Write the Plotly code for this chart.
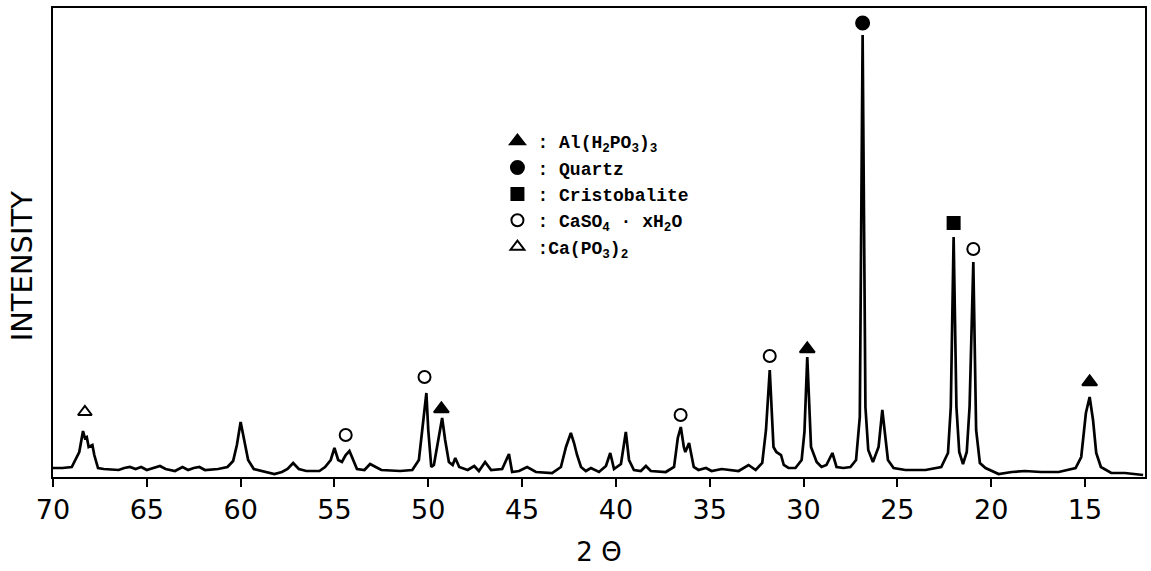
import plotly.graph_objects as go

# Diffraction pattern (2-theta in degrees, intensity in arbitrary units)
two_theta = [
    70.0, 69.5, 69.0, 68.8, 68.6, 68.4, 68.3, 68.2, 68.1, 67.9, 67.8, 67.6, 67.3, 66.5, 66.2, 65.9,
    65.6, 65.3, 65.0, 64.3, 64.0, 63.5, 63.1, 62.8, 62.5, 62.2, 61.9, 61.2, 60.7, 60.4, 60.2, 60.0,
    59.8, 59.6, 59.3, 58.8, 58.2, 57.8, 57.5, 57.2, 56.9, 56.5, 55.8, 55.5, 55.2, 55.0, 54.8, 54.6,
    54.4, 54.2, 54.0, 53.8, 53.4, 53.1, 52.8, 52.5, 51.5, 50.85, 50.5, 50.27, 50.1, 50.0, 49.84, 49.7,
    49.47, 49.26, 49.1, 48.9, 48.7, 48.56, 48.35, 47.9, 47.55, 47.3, 46.97, 46.65, 46.06, 45.85, 45.7, 45.53,
    45.16, 44.73, 44.26, 43.4, 42.93, 42.66, 42.4, 42.23, 42.07, 41.86, 41.6, 41.33, 40.9, 40.53, 40.3, 40.1,
    39.73, 39.47, 39.3, 39.04, 38.67, 38.4, 38.14, 37.34, 36.9, 36.7, 36.54, 36.38, 36.3, 36.1, 35.85, 35.6,
    35.2, 34.9, 34.36, 33.46, 32.93, 32.55, 32.2, 32.0, 31.8, 31.6, 31.45, 31.2, 31.05, 30.8, 30.43, 30.1,
    29.95, 29.8, 29.6, 29.3, 29.04, 28.78, 28.46, 28.24, 27.87, 27.5, 27.2, 27.0, 26.85, 26.7, 26.55, 26.3,
    26.0, 25.8, 25.65, 25.5, 25.2, 24.57, 23.5, 22.66, 22.3, 22.15, 22.0, 21.85, 21.7, 21.5, 21.3, 21.15,
    20.95, 20.8, 20.6, 20.3, 19.6, 18.9, 18.2, 17.34, 16.4, 15.5, 15.2, 14.95, 14.75, 14.57, 14.4, 14.15,
    13.6, 12.87, 11.9,
]
intensity = [
    9, 9, 10, 17, 25, 46, 39, 40, 30, 32, 22, 9, 8, 7, 9, 10,
    8, 10, 7, 11, 8, 6, 10, 7, 9, 10, 7, 8, 10, 16, 32, 55,
    37, 17, 8, 6, 3, 5, 8, 14, 8, 6, 6, 10, 17, 29, 17, 15,
    22, 26, 17, 8, 7, 13, 10, 7, 6, 7, 17, 57, 84, 47, 10, 12,
    35, 59, 37, 15, 12, 19, 10, 7, 11, 6, 15, 7, 8, 17, 23, 5,
    6, 10, 5, 4, 10, 30, 44, 34, 22, 10, 6, 9, 5, 11, 24, 8,
    13, 45, 17, 7, 6, 11, 6, 5, 10, 39, 50, 30, 25, 34, 10, 7,
    9, 6, 8, 6, 12, 7, 14, 47, 107, 30, 25, 22, 12, 9, 9, 17,
    45, 120, 30, 15, 10, 12, 24, 10, 9, 10, 17, 60, 442, 70, 27, 15,
    30, 67, 44, 17, 9, 7, 7, 10, 24, 70, 240, 70, 25, 13, 25, 70,
    215, 47, 14, 9, 3, 5, 6, 5, 5, 9, 20, 64, 80, 57, 24, 10,
    4, 4, 2,
]

# Phase markers placed above the identified peaks
al_x, al_y = [49.3, 29.8, 14.75], [68, 128, 95]
quartz_x, quartz_y = [26.85], [454]
cristo_x, cristo_y = [22.0], [254]
caso4_x, caso4_y = [54.4, 50.2, 36.55, 31.8, 20.95], [42, 100, 62, 121, 228]
capo3_x, capo3_y = [68.3], [65]

x_ticks = [70, 65, 60, 55, 50, 45, 40, 35, 30, 25, 20, 15]

fig = go.Figure()
fig.add_trace(go.Scatter(x=two_theta, y=intensity, mode="lines",
                         line=dict(color="black", width=2.7), showlegend=False, hoverinfo="skip"))

marker_sets = [
    (al_x, al_y, "triangle-up", ": Al(H<sub>2</sub>PO<sub>3</sub>)<sub>3</sub>", 13),
    (quartz_x, quartz_y, "circle", ": Quartz", 13),
    (cristo_x, cristo_y, "square", ": Cristobalite", 12),
    (caso4_x, caso4_y, "circle-open", ": CaSO<sub>4</sub> · xH<sub>2</sub>O", 12),
    (capo3_x, capo3_y, "triangle-up-open", ":Ca(PO<sub>3</sub>)<sub>2</sub>", 12),
]
for xs, ys, sym, name, size in marker_sets:
    fig.add_trace(go.Scatter(
        x=xs, y=ys, mode="markers", name=name,
        marker=dict(symbol=sym, size=size, color="black",
                    line=dict(color="black", width=2)),
    ))

fig.update_layout(
    width=1151, height=571,
    margin=dict(l=53, r=4, t=8, b=94),
    paper_bgcolor="white", plot_bgcolor="white",
    font=dict(family="DejaVu Sans", color="black"),
    legend=dict(
        x=0.407, y=0.755, xanchor="left", yanchor="top",
        font=dict(family="Liberation Mono", size=18, color="black", weight="bold"),
        bgcolor="rgba(0,0,0,0)", itemclick=False,
    ),
    xaxis=dict(
        range=[70, 11.8], tickmode="array", tickvals=x_ticks,
        ticks="outside", ticklen=8, tickwidth=2, tickcolor="black",
        showline=True, linecolor="black", linewidth=2, mirror=True,
        showgrid=False, zeroline=False,
        tickfont=dict(family="DejaVu Sans", size=27, color="black"),
        title=dict(text="2 Θ", font=dict(family="DejaVu Sans", size=26, color="black"), standoff=18),
    ),
    yaxis=dict(
        range=[0, 469], showticklabels=False, ticks="",
        showline=True, linecolor="black", linewidth=2, mirror=True,
        showgrid=False, zeroline=False,
    ),
    annotations=[dict(
        text="INTENSITY", textangle=-90, xref="paper", yref="paper",
        x=-0.028, y=0.45, xanchor="center", yanchor="middle", showarrow=False,
        font=dict(family="DejaVu Sans", size=29, color="black"),
    )],
)

fig.write_html("out.html")
